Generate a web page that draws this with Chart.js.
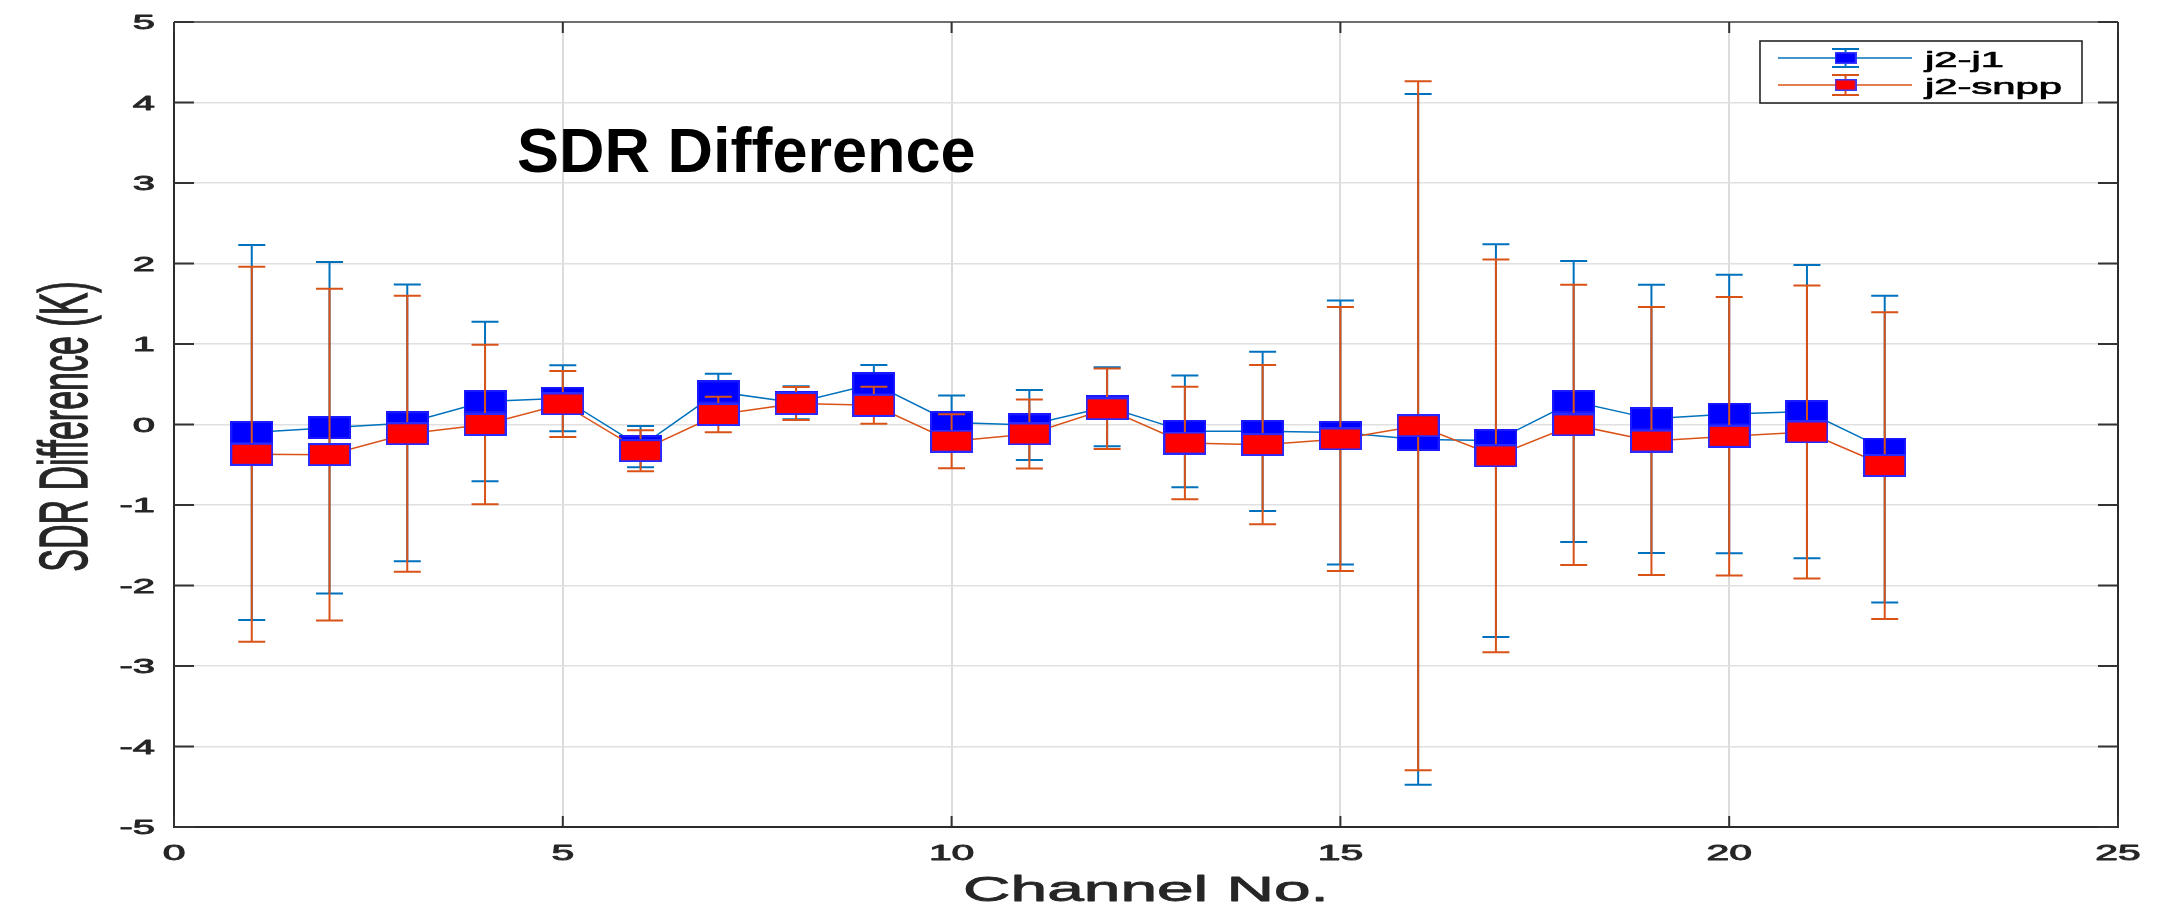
<!DOCTYPE html>
<html>
<head>
<meta charset="utf-8">
<script src="https://cdn.jsdelivr.net/npm/chart.js@4.4.1/dist/chart.umd.min.js"></script>
<style>
  html, body { margin: 0; padding: 0; background: #ffffff; }
  #wrap { width: 2162px; height: 907px; position: relative; }
</style>
</head>
<body>
<div id="wrap"><canvas id="c"></canvas></div>
<script>
// ---------------- data ----------------
const channels   = [1, 2, 3, 4, 5, 6, 7, 8, 9, 10, 11, 12, 13, 14, 15, 16, 17, 18, 19, 20, 21, 22];
const j2j1Mean   = [-0.10, -0.04, 0.02, 0.285, 0.327, -0.275, 0.405, 0.27, 0.505, 0.025, -0.005, 0.22, -0.085, -0.085, -0.10, -0.185, -0.20, 0.285, 0.07, 0.13, 0.16, -0.305];
const j2j1Err    = [2.33, 2.06, 1.72, 0.99, 0.41, 0.255, 0.225, 0.205, 0.235, 0.335, 0.435, 0.49, 0.695, 0.99, 1.64, 4.29, 2.44, 1.745, 1.665, 1.73, 1.82, 1.905];
const j2snppMean = [-0.37, -0.375, -0.115, 0.0, 0.255, -0.325, 0.124, 0.26, 0.238, -0.207, -0.118, 0.195, -0.23, -0.25, -0.18, -0.015, -0.39, -0.005, -0.206, -0.147, -0.093, -0.51];
const j2snppErr  = [2.33, 2.06, 1.715, 0.99, 0.41, 0.255, 0.22, 0.205, 0.23, 0.335, 0.43, 0.50, 0.70, 0.99, 1.64, 4.28, 2.44, 1.74, 1.665, 1.73, 1.82, 1.905];
const seriesLabels = ['j2-j1', 'j2-snpp'];
const xTickValues = [0, 5, 10, 15, 20, 25];
const yTickValues = [-5, -4, -3, -2, -1, 0, 1, 2, 3, 4, 5];
const chartTitle = 'SDR Difference';
const xAxisTitle = 'Channel No.';
const yAxisTitle = 'SDR Difference (K)';

// ---------------- styles ----------------
const FONT = '"Liberation Sans", Arial, Helvetica, sans-serif';
const LINE_BLUE = '#0072BD';
const LINE_RED = '#D95319';
const TEXT_COL = '#262626';
const SX = 1.9; // the original figure's text is stretched horizontally

function markerCanvas(face, edge, w, h, lw) {
  const cv = document.createElement('canvas');
  cv.width = w; cv.height = h;
  const g = cv.getContext('2d');
  g.fillStyle = face;
  g.fillRect(0, 0, w, h);
  g.strokeStyle = edge;
  g.lineWidth = lw;
  g.strokeRect(lw / 2, lw / 2, w - lw, h - lw);
  return cv;
}
const blueMarker = markerCanvas('#0000FF', '#1a1aff', 43, 23, 2);
const redMarker  = markerCanvas('#FF0000', '#2a2aff', 43, 23, 2);
const blueMarkerSmall = markerCanvas('#0000FF', '#3a3aff', 22, 12, 1.5);
const redMarkerSmall  = markerCanvas('#FF0000', '#3a3aff', 22, 12, 1.5);

const toXY = (xs, ys) => xs.map((x, i) => ({ x: x, y: ys[i] }));

// ---------------- plugins ----------------
const errorBars = {
  id: 'errorBars',
  afterDatasetDraw(chart, args) {
    const ds = chart.data.datasets[args.index];
    if (!ds.errors) return;
    const ys = chart.scales.y;
    const ctx = chart.ctx;
    ctx.save();
    ctx.strokeStyle = ds.borderColor;
    ctx.lineWidth = 2;
    const half = 13.5;
    args.meta.data.forEach((pt, i) => {
      const m = ds.data[i].y, e = ds.errors[i];
      const top = ys.getPixelForValue(m + e);
      const bot = ys.getPixelForValue(m - e);
      const x = pt.x;
      ctx.beginPath();
      ctx.moveTo(x, top); ctx.lineTo(x, bot);
      ctx.moveTo(x - half, top); ctx.lineTo(x + half, top);
      ctx.moveTo(x - half, bot); ctx.lineTo(x + half, bot);
      ctx.stroke();
    });
    ctx.restore();
  }
};

function stretchedText(ctx, text, x, y, size, align, baseline, sx, weight) {
  ctx.save();
  ctx.font = size + 'px ' + FONT;
  ctx.textAlign = align;
  ctx.textBaseline = baseline;
  ctx.translate(x, y);
  ctx.scale(sx, 1);
  ctx.fillText(text, 0, 0);
  if (weight) {
    ctx.lineWidth = weight;
    ctx.strokeStyle = ctx.fillStyle;
    ctx.lineJoin = 'round';
    ctx.strokeText(text, 0, 0);
  }
  ctx.restore();
}

const matlabAxes = {
  id: 'matlabAxes',
  afterDraw(chart) {
    const ctx = chart.ctx;
    const a = chart.chartArea;
    const xs = chart.scales.x, ys = chart.scales.y;
    ctx.save();
    // box
    ctx.lineWidth = 2;
    ctx.strokeStyle = '#2b2b2b';
    ctx.beginPath();
    ctx.moveTo(a.left, a.top); ctx.lineTo(a.left, a.bottom); ctx.lineTo(a.right, a.bottom); ctx.lineTo(a.right, a.top);
    ctx.stroke();
    ctx.strokeStyle = '#6e6e6e';
    ctx.beginPath();
    ctx.moveTo(a.left, a.top); ctx.lineTo(a.right, a.top);
    ctx.stroke();
    // inward ticks
    ctx.strokeStyle = '#333333';
    ctx.lineWidth = 2;
    ctx.beginPath();
    yTickValues.forEach(v => {
      const py = ys.getPixelForValue(v);
      ctx.moveTo(a.left, py); ctx.lineTo(a.left + 20, py);
      ctx.moveTo(a.right, py); ctx.lineTo(a.right - 20, py);
    });
    xTickValues.forEach(v => {
      const px = xs.getPixelForValue(v);
      ctx.moveTo(px, a.bottom); ctx.lineTo(px, a.bottom - 11);
      ctx.moveTo(px, a.top); ctx.lineTo(px, a.top + 11);
    });
    ctx.stroke();
    // tick labels
    ctx.fillStyle = TEXT_COL;
    xTickValues.forEach(v => {
      stretchedText(ctx, String(v), xs.getPixelForValue(v), a.bottom + 33, 21.5, 'center', 'alphabetic', SX, 0.9);
    });
    yTickValues.forEach(v => {
      stretchedText(ctx, String(v), a.left - 19, ys.getPixelForValue(v) + 1.5, 21, 'right', 'middle', SX, 0.9);
    });
    // x axis title
    stretchedText(ctx, xAxisTitle, (a.left + a.right) / 2, a.bottom + 74, 35, 'center', 'alphabetic', 1.88, 0.8);
    // y axis title (rotated; glyph height stretched)
    ctx.save();
    ctx.font = '34px ' + FONT;
    ctx.textAlign = 'center';
    ctx.textBaseline = 'alphabetic';
    ctx.translate(87, (a.top + a.bottom) / 2 + 2);
    ctx.rotate(-Math.PI / 2);
    ctx.scale(1, 2.0);
    ctx.fillText(yAxisTitle, 0, 0);
    ctx.lineWidth = 0.7;
    ctx.strokeStyle = TEXT_COL;
    ctx.strokeText(yAxisTitle, 0, 0);
    ctx.restore();
    // title inside the plot
    ctx.font = 'bold 63px ' + FONT;
    ctx.textAlign = 'left';
    ctx.textBaseline = 'alphabetic';
    ctx.fillStyle = '#000000';
    ctx.fillText(chartTitle, 517, 172);
    // legend
    const L = { x: 1760, y: 41, w: 322, h: 62 };
    ctx.fillStyle = '#ffffff';
    ctx.fillRect(L.x, L.y, L.w, L.h);
    ctx.strokeStyle = '#262626';
    ctx.lineWidth = 1.6;
    ctx.strokeRect(L.x, L.y, L.w, L.h);
    const rows = [
      { y: 58, color: LINE_BLUE, marker: blueMarkerSmall, cap: 9, label: chart.data.datasets[0].label },
      { y: 85, color: LINE_RED, marker: redMarkerSmall, cap: 10, label: chart.data.datasets[2].label }
    ];
    rows.forEach(r => {
      ctx.strokeStyle = r.color;
      ctx.lineWidth = 1.5;
      ctx.beginPath();
      ctx.moveTo(1778, r.y); ctx.lineTo(1912, r.y);
      ctx.stroke();
      ctx.lineWidth = 2;
      ctx.beginPath();
      const cx = 1845.5;
      ctx.moveTo(cx, r.y - r.cap); ctx.lineTo(cx, r.y + r.cap);
      ctx.moveTo(cx - 13.5, r.y - r.cap); ctx.lineTo(cx + 13.5, r.y - r.cap);
      ctx.moveTo(cx - 13.5, r.y + r.cap); ctx.lineTo(cx + 13.5, r.y + r.cap);
      ctx.stroke();
      ctx.drawImage(r.marker, cx - r.marker.width / 2, r.y - r.marker.height / 2);
      ctx.fillStyle = '#000000';
      stretchedText(ctx, r.label, 1925, r.y + 8.5, 22, 'left', 'alphabetic', 1.9, 0.7);
    });
    ctx.restore();
  }
};

// ---------------- chart ----------------
new Chart(document.getElementById('c'), {
  type: 'line',
  data: {
    datasets: [
      { label: seriesLabels[0], data: toXY(channels, j2j1Mean), errors: j2j1Err,
        borderColor: LINE_BLUE, borderWidth: 1.5, pointRadius: 0, fill: false, order: 4 },
      { label: seriesLabels[0] + ' markers', data: toXY(channels, j2j1Mean), showLine: false,
        pointStyle: blueMarker, pointRadius: 12, order: 3 },
      { label: seriesLabels[1], data: toXY(channels, j2snppMean), errors: j2snppErr,
        borderColor: LINE_RED, borderWidth: 1.5, pointRadius: 0, fill: false, order: 2 },
      { label: seriesLabels[1] + ' markers', data: toXY(channels, j2snppMean), showLine: false,
        pointStyle: redMarker, pointRadius: 12, order: 1 }
    ]
  },
  options: {
    responsive: true,
    maintainAspectRatio: false,
    animation: false,
    events: [],
    layout: { padding: { left: 174, right: 44, top: 22, bottom: 80 } },
    plugins: { legend: { display: false }, tooltip: { enabled: false }, title: { display: false } },
    scales: {
      x: {
        type: 'linear', min: 0, max: 25,
        afterBuildTicks: s => { s.ticks = xTickValues.map(v => ({ value: v })); },
        ticks: { display: false },
        border: { display: false },
        grid: { color: '#dcdcdc', lineWidth: 2, drawTicks: false }
      },
      y: {
        type: 'linear', min: -5, max: 5,
        afterBuildTicks: s => { s.ticks = yTickValues.map(v => ({ value: v })); },
        ticks: { display: false },
        border: { display: false },
        grid: { color: '#e0e0e0', lineWidth: 1.5, drawTicks: false }
      }
    }
  },
  plugins: [errorBars, matlabAxes]
});
</script>
</body>
</html>
